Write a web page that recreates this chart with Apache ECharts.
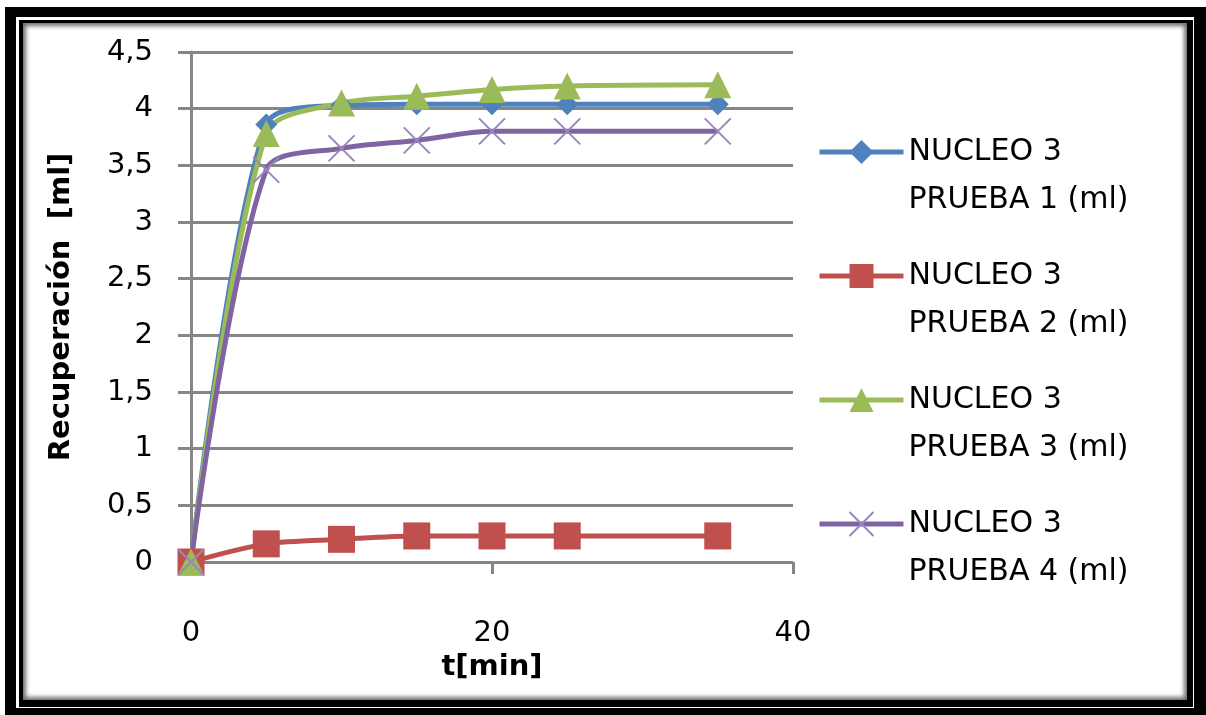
<!DOCTYPE html>
<html>
<head>
<meta charset="utf-8">
<script src="https://cdn.jsdelivr.net/npm/echarts@6/dist/echarts.min.js"></script>
<style>
  html, body { margin:0; padding:0; background:#fff; }
  .f { position:absolute; box-sizing:border-box; }
  #chart { position:absolute; left:0; top:0; width:1206px; height:715px; }
</style>
</head>
<body>
<div class="f" style="left:5px;top:7px;width:1201px;height:708px;background:#000;"></div>
<div class="f" style="left:16px;top:17px;width:1178px;height:691px;background:#fff;"></div>
<div class="f" style="left:19px;top:20px;width:1174px;height:687px;background:#000;"></div>
<div class="f" style="left:23px;top:23px;width:1164px;height:677px;background:#fff;box-shadow: inset 0 0 4px 3px #707070;"></div>
<div id="chart"></div>
<script>
const tMin = [0, 5, 10, 15, 20, 25, 35];
const prueba1 = [0, 3.86, 4.03, 4.04, 4.04, 4.04, 4.04];
const prueba2 = [0, 0.16, 0.20, 0.23, 0.23, 0.23, 0.23];
const prueba3 = [0, 3.78, 4.05, 4.11, 4.17, 4.20, 4.21];
const prueba4 = [0, 3.46, 3.65, 3.72, 3.80, 3.80, 3.80];
const seriesNames = ['NUCLEO 3\nPRUEBA 1 (ml)', 'NUCLEO 3\nPRUEBA 2 (ml)', 'NUCLEO 3\nPRUEBA 3 (ml)', 'NUCLEO 3\nPRUEBA 4 (ml)'];
const yTitle = 'Recuperación  [ml]';
const xTitle = 't[min]';

const FONT = 'DejaVu Sans';
const pairs = arr => tMin.map((t, i) => [t, arr[i]]);

function mk(name, data, color, symbol, size, xMark) {
  return {
    name, type: 'line', data: pairs(data), smooth: 0.3,
    symbol, symbolSize: size,
    lineStyle: { color, width: 5 },
    itemStyle: xMark ? { color: 'rgba(0,0,0,0)', borderColor: '#9a86bb', borderWidth: 2 }
                     : { color, borderWidth: 0 },
    emphasis: { disabled: true }
  };
}

const chart = echarts.init(document.getElementById('chart'), null, { renderer: 'canvas' });
chart.setOption({
  backgroundColor: 'transparent',
  animation: false,
  grid: { left: 191, right: 413, top: 52, bottom: 153 },
  xAxis: {
    type: 'value', min: 0, max: 40, interval: 20,
    axisLine: { show: false },
    axisTick: { show: true, length: 12, lineStyle: { color: '#868686', width: 3 } },
    splitLine: { show: false },
    axisLabel: { margin: 57, fontFamily: FONT, fontSize: 29, color: '#000' },
    name: xTitle, nameLocation: 'middle', nameGap: 91,
    nameTextStyle: { fontFamily: FONT, fontSize: 29, fontWeight: 'bold', color: '#000' }
  },
  yAxis: {
    type: 'value', min: 0, max: 4.5, interval: 0.5,
    axisLine: { show: true, lineStyle: { color: '#868686', width: 3 } },
    axisTick: { show: true, length: 13, lineStyle: { color: '#868686', width: 3 } },
    splitLine: { show: true, lineStyle: { color: '#868686', width: 3 } },
    axisLabel: { margin: 38, fontFamily: FONT, fontSize: 29, color: '#000',
                 formatter: v => String(v).replace('.', ',') },
    name: yTitle, nameLocation: 'middle', nameGap: 115, nameRotate: 90,
    nameTextStyle: { fontFamily: FONT, fontSize: 29, fontWeight: 'bold', color: '#000' }
  },
  legend: {
    orient: 'vertical', left: 817, top: 80, itemGap: -20, padding: 0,
    itemWidth: 84, itemHeight: 30,
    lineStyle: { width: 5 },
    formatter: name => '\n' + name,
    textStyle: { fontFamily: FONT, fontSize: 30, color: '#000', lineHeight: 48 },
    data: seriesNames
  },
  series: [
    mk(seriesNames[0], prueba1, '#4F81BD', 'diamond', 22),
    mk(seriesNames[1], prueba2, '#C0504D', 'rect', 27),
    mk(seriesNames[2], prueba3, '#9BBB59', 'triangle', 27),
    mk(seriesNames[3], prueba4, '#8064A2', 'path://M0,0L10,10M10,0L0,10', 26, true)
  ]
});
</script>
</body>
</html>
